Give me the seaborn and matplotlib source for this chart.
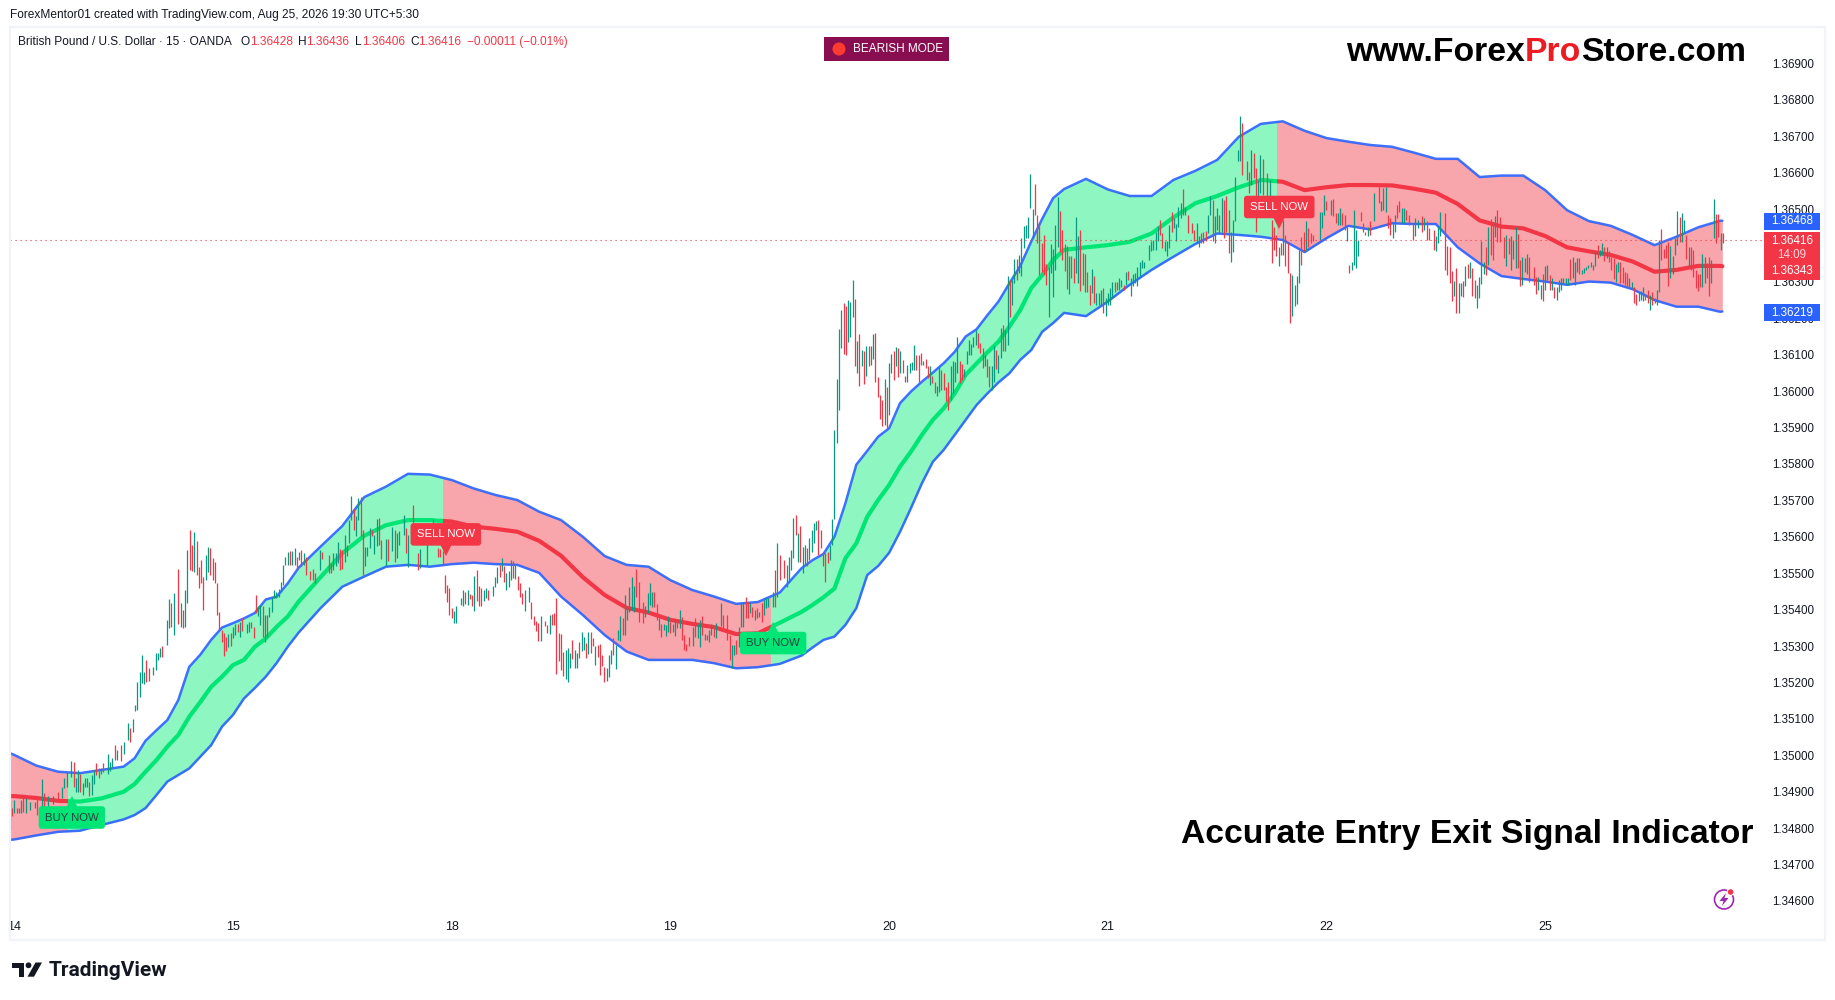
#!/usr/bin/env python3
"""GBP/USD 15 minute chart with the entry / exit signal band, TradingView look."""

import numpy as np
import matplotlib
matplotlib.use('Agg')
import matplotlib.pyplot as plt
import seaborn as sns
from matplotlib.patches import Rectangle, Circle, Polygon
from matplotlib.transforms import Affine2D
from matplotlib.ticker import FormatStrFormatter

W, H = 1835, 1000
BARS_PER_DAY = 96

day_ticks = [0, 1, 2, 3, 4, 5, 6, 7]
day_labels = ['14', '15', '18', '19', '20', '21', '22', '25']

# band values in pipettes (1e-5), one reading every 0.1 day
band_day = [-0.02] + [k / 10 for k in range(79)] + [7.81]
band_upper = [
    135006, 135001, 134972, 134955, 134951, 134960, 134969, 135040, 135097, 135243,
    135317, 135363, 135391, 135436, 135515, 135573, 135630, 135709, 135738, 135773,
    135771, 135756, 135733, 135715, 135701, 135669, 135646, 135600, 135547, 135523,
    135518, 135481, 135454, 135436, 135416, 135421, 135447, 135514, 135553, 135692,
    135836, 135898, 135999, 136051, 136108, 136170, 136246, 136344, 136473, 136555,
    136583, 136554, 136536, 136536, 136580, 136605, 136635, 136699, 136734, 136741,
    136715, 136695, 136685, 136676, 136671, 136655, 136638, 136638, 136588, 136592,
    136592, 136552, 136497, 136467, 136454, 136429, 136401, 136424, 136450, 136468,
    136468]
band_mid = [
    134888, 134888, 134883, 134875, 134873, 134882, 134900, 134955, 135024, 135106,
    135188, 135248, 135298, 135353, 135422, 135489, 135555, 135603, 135632, 135646,
    135646, 135642, 135628, 135622, 135614, 135589, 135548, 135489, 135440, 135405,
    135392, 135372, 135361, 135352, 135333, 135335, 135364, 135394, 135434, 135541,
    135655, 135742, 135834, 135921, 135994, 136076, 136136, 136223, 136319, 136388,
    136395, 136401, 136410, 136433, 136477, 136516, 136536, 136560, 136580, 136575,
    136552, 136560, 136566, 136566, 136565, 136556, 136545, 136514, 136469, 136452,
    136447, 136426, 136395, 136384, 136374, 136356, 136328, 136333, 136344, 136344,
    136343]
band_lower = [
    134768, 134769, 134780, 134790, 134793, 134809, 134824, 134855, 134928, 134964,
    135028, 135111, 135185, 135254, 135337, 135404, 135463, 135491, 135518, 135523,
    135518, 135525, 135529, 135525, 135523, 135501, 135436, 135385, 135330, 135285,
    135262, 135262, 135262, 135253, 135239, 135242, 135251, 135274, 135317, 135358,
    135495, 135556, 135679, 135806, 135880, 135962, 136024, 136086, 136163, 136215,
    136206, 136246, 136292, 136333, 136369, 136404, 136433, 136429, 136424, 136415,
    136382, 136420, 136454, 136444, 136461, 136459, 136459, 136395, 136351, 136316,
    136308, 136301, 136292, 136301, 136298, 136280, 136250, 136232, 136232, 136218,
    136219]

# extra readings on the steep climbs, half way between the ones above
steep_day = [0.55, 0.65, 0.75, 0.85, 0.95, 1.05, 1.15, 1.25,
             3.65, 3.75, 3.85, 3.95, 4.05, 4.15, 4.25, 4.35, 4.45, 4.55, 4.65, 4.75]
steep_upper = [134992, 135069, 135152, 135276, 135351, 135376, 135428, 135472,
               135536, 135600, 135798, 135875, 135967, 136026, 136077, 136150, 136209, 136296, 136411, 136530]
steep_mid = [134921, 134987, 135056, 135146, 135216, 135262, 135321, 135381,
             135413, 135458, 135582, 135701, 135793, 135880, 135953, 136045, 136107, 136177, 136283, 136360]
steep_lower = [134836, 134891, 134946, 134996, 135079, 135156, 135216, 135298,
               135296, 135326, 135404, 135520, 135614, 135747, 135839, 135921, 135994, 136049, 136113, 136187]

# bullish / bearish stretches of the band, in days
regime_start = [-0.02, 0.247, 1.962, 3.46, 5.772]
regime_end = [0.247, 1.962, 3.46, 5.772, 7.9]
regime_side = ['r', 'g', 'r', 'g', 'r']

# 15 minute candles: bar number since the "14" tick, high, low (pipettes), direction
bar_index = [
    -2, -1, 0, 1, 2, 3, 4, 5, 7, 9, 10, 12, 13, 15, 17, 19, 21, 22, 23, 25,
    26, 27, 28, 29, 30, 31, 32, 33, 34, 35, 36, 37, 38, 39, 41, 42, 43, 44, 45, 47,
    48, 50, 51, 52, 53, 54, 55, 56, 57, 58, 59, 61, 62, 63, 64, 65, 67, 68, 69, 70,
    72, 73, 74, 75, 76, 77, 78, 79, 80, 81, 82, 83, 84, 85, 86, 87, 88, 89, 90, 91,
    92, 93, 94, 95, 96, 97, 98, 99, 100, 102, 103, 104, 105, 106, 107, 108, 109, 110, 111, 112,
    113, 114, 115, 116, 117, 118, 119, 120, 121, 122, 123, 124, 125,
    126, 127, 128, 130, 131, 132, 134, 135, 138, 139, 140, 141, 142, 143, 144, 145, 146, 147, 148, 149,
    150, 151, 152, 153, 154, 155, 156, 157, 158, 159, 160, 161, 163, 164, 166, 167, 168, 169, 171, 172,
    173, 175, 177, 178, 181, 183, 184, 186, 187, 188, 189, 190, 191, 192, 193, 194, 196, 197, 198, 199,
    200, 201, 202, 203, 204, 205, 206, 207, 208, 210, 211, 212, 213, 214, 215, 216, 217, 218, 219, 220,
    221, 222, 223, 224, 226, 227, 228, 229, 230, 231, 233, 234, 235, 236, 237, 238, 239, 240, 241, 242,
    243, 244, 245, 246, 247, 248, 249, 250, 251, 252, 253, 254, 255, 256,
    257, 258, 259, 260, 261, 262, 263, 264, 265, 266, 267, 268, 269, 270, 271, 272, 273, 274, 276, 277,
    278, 279, 280, 281, 282, 283, 284, 285, 286, 287, 288, 289, 290, 291, 292, 293, 294, 295, 296, 298,
    299, 300, 301, 302, 303, 304, 305, 306, 307, 308, 310, 311, 313, 314, 315, 316, 317, 318, 319, 320,
    321, 322, 323, 324, 325, 326, 327, 328, 329, 330, 331, 333, 334, 335, 336, 338, 339, 340, 341, 342,
    343, 344, 345, 346, 347, 348, 349, 350, 351, 352, 353, 354, 355, 356, 357, 358, 359]
bar_index += list(range(360, 494))
bar_index += [
    494, 495, 496, 498, 499, 500, 501, 502, 503, 504, 505, 506, 507, 508, 509, 510, 511, 512, 513, 514,
    515, 517, 518, 519, 520, 521, 522, 523, 524, 525, 526, 527, 528, 529, 530, 531, 532, 533, 534, 535,
    536, 537, 538, 539, 541, 542, 543, 544, 545, 546, 547, 548, 550, 551, 552, 553, 554, 555, 556, 557,
    558, 559, 560, 561, 562, 563, 564, 565, 566, 567, 568, 569, 570, 573, 574, 575, 576, 578, 579, 580,
    581, 582, 583, 584, 585, 586, 587, 588, 589, 590, 591, 592, 593, 594, 595, 597, 599, 600, 601, 602,
    603, 604, 605, 606, 607, 608, 609, 610, 611, 612, 614, 615, 616, 618, 619, 620, 621, 623, 624, 625,
    626, 628, 629, 630, 631, 632, 633, 634, 635, 636, 637, 638, 639, 640, 641, 642, 643, 644, 645, 646,
    647, 648, 649, 650, 651, 652, 654, 655, 656, 657, 658, 659, 660, 661, 662, 663, 664, 665]
bar_index += list(range(667, 751))

bar_high = [
    134877, 134854, 134877, 134854, 134854, 134877, 134882, 134884, 134873, 134873, 134882, 134934, 134896, 134888, 134888, 134900, 134912, 134937, 134955, 134984,
    134981, 134937, 134960, 134949, 134923, 134939, 134939, 134928, 134946, 134960, 134978, 134964, 134964, 134978, 135004, 134982, 134992, 135028, 135015, 135028,
    135037, 135088, 135074, 135101, 135138, 135202, 135230, 135275, 135230, 135262, 135241, 135243, 135282, 135282, 135294, 135300, 135371, 135428, 135417, 135447,
    135512, 135419, 135399, 135454, 135564, 135620, 135577, 135612, 135588, 135518, 135536, 135490, 135550, 135573, 135568, 135541, 135532, 135472, 135394, 135344,
    135335, 135326, 135332, 135335, 135353, 135360, 135362, 135367, 135376, 135362, 135367, 135367, 135353, 135440, 135410, 135413, 135410, 135385, 135385, 135408,
    135436, 135454, 135449, 135458, 135477, 135522, 135544, 135559, 135561, 135561, 135568, 135545, 135559,
    135564, 135555, 135544, 135505, 135512, 135500, 135564, 135557, 135551, 135528, 135555, 135555, 135587, 135566, 135564, 135606, 135578, 135647, 135713, 135676,
    135656, 135706, 135709, 135619, 135572, 135573, 135624, 135619, 135606, 135649, 135651, 135592, 135594, 135594, 135627, 135619, 135610, 135615, 135660, 135624,
    135606, 135688, 135555, 135566, 135592, 135619, 135649, 135569, 135567, 135560, 135496, 135468, 135459, 135404, 135395, 135411, 135432, 135453, 135448, 135454,
    135443, 135441, 135493, 135509, 135464, 135459, 135453, 135459, 135454, 135464, 135489, 135517, 135523, 135541, 135521, 135500, 135505, 135537, 135535, 135523,
    135493, 135473, 135447, 135454, 135462, 135421, 135383, 135368, 135363, 135383, 135370, 135358, 135386, 135389, 135392, 135432, 135335, 135334, 135285, 135290,
    135294, 135281, 135317, 135290, 135281, 135310, 135338, 135326, 135308, 135338, 135338, 135322, 135299, 135303,
    135307, 135275, 135243, 135239, 135275, 135289, 135321, 135303, 135344, 135383, 135376, 135440, 135404, 135463, 135489, 135465, 135511, 135477, 135422, 135410,
    135445, 135472, 135449, 135449, 135415, 135376, 135362, 135361, 135358, 135383, 135367, 135362, 135372, 135372, 135399, 135381, 135330, 135307, 135324, 135353,
    135376, 135362, 135372, 135383, 135333, 135330, 135344, 135362, 135353, 135364, 135417, 135385, 135385, 135330, 135303, 135303, 135317, 135353, 135417, 135422,
    135436, 135422, 135417, 135408, 135399, 135404, 135394, 135419, 135426, 135431, 135431, 135449, 135509, 135582, 135550, 135536, 135523, 135544, 135564, 135651,
    135660, 135610, 135630, 135573, 135578, 135568, 135596, 135619, 135637, 135644, 135646, 135619, 135559, 135555, 135559, 135578, 135648,
    135894, 136034, 136171, 136223, 136241, 136235, 136251, 136246, 136305, 136252, 136138, 136157, 136113, 136111, 136124, 136124, 136124, 136157, 136159, 136038,
    135990, 135976, 136034, 136011, 136077, 136102, 136109, 136121, 136118, 136109, 136086, 136042, 136072, 136077, 136079, 136127, 136100, 136100, 136104, 136083,
    136089, 136068, 136069, 136042, 136026, 136013, 136070, 136058, 136051, 136011, 136026, 136070, 136083, 136081, 136150, 136083, 136075, 136060, 136111, 136141,
    136130, 136150, 136168, 136161, 136133, 136118, 136100, 136089, 136069, 136068, 136124, 136113, 136100, 136173, 136182, 136168, 136315, 136304, 136305, 136363,
    136363, 136374, 136420, 136454, 136457, 136479, 136597, 136500, 136569, 136484, 136461, 136406, 136429, 136349, 136342, 136404, 136390, 136457, 136532, 136495,
    136443, 136404, 136399, 136370, 136370, 136365, 136479, 136426, 136443, 136379, 136377, 136328, 136292, 136335, 136316, 136269, 136269, 136278, 136283, 136255,
    136269, 136283, 136301, 136301, 136301, 136310, 136305, 136292, 136328, 136331, 136310, 136322, 136324, 136340,
    136356, 136361, 136356, 136402, 136411, 136416, 136438, 136454, 136469, 136434, 136411, 136411, 136457, 136493, 136475, 136460, 136505, 136516, 136556, 136507,
    136484, 136463, 136443, 136461, 136425, 136434, 136438, 136441, 136484, 136535, 136525, 136480, 136503, 136484, 136530, 136525, 136536, 136498, 136438, 136470,
    136588, 136663, 136756, 136736, 136631, 136603, 136663, 136654, 136612, 136580, 136649, 136637, 136599, 136580, 136470, 136452, 136429, 136397, 136406, 136470,
    136429, 136406, 136324, 136319, 136292, 136315, 136388, 136423, 136438, 136466, 136448, 136434, 136429, 136493, 136493, 136539, 136521, 136525, 136528, 136489,
    136489, 136503, 136489, 136484, 136452, 136347, 136356, 136498, 136443, 136416, 136493, 136461, 136438, 136452, 136466, 136544, 136562, 136521, 136557, 136562,
    136484, 136475, 136461, 136484, 136512, 136521, 136503, 136504, 136498, 136484, 136461, 136475, 136470, 136480, 136475, 136466, 136448, 136443, 136425, 136452,
    136491, 136488, 136398, 136395, 136330, 136303, 136337, 136296, 136298, 136303, 136344, 136349, 136355, 136337, 136305, 136291, 136314, 136413, 136355, 136397,
    136452, 136474, 136465, 136481, 136497, 136477, 136424, 136429, 136420, 136426, 136415, 136452, 136431, 136360, 136369, 136365, 136377, 136369,
    136342, 136314, 136314, 136291, 136323, 136344, 136346, 136319, 136310, 136287, 136287, 136305, 136310, 136310, 136310, 136310, 136362, 136369, 136355, 136365,
    136365, 136334, 136337, 136342, 136346, 136355, 136346, 136386, 136401, 136389, 136406, 136395, 136397, 136386, 136369, 136367, 136349, 136355, 136355, 136340,
    136328, 136325, 136310, 136301, 136287, 136268, 136271, 136275, 136287, 136268, 136278, 136264, 136271, 136255, 136278, 136415, 136444, 136390, 136401, 136410,
    136398, 136371, 136420, 136495, 136477, 136488, 136470, 136429, 136397, 136397, 136387, 136333, 136323, 136323, 136377, 136369, 136351, 136369, 136360, 136529,
    136486, 136486, 136433, 136433]

bar_low = [
    134799, 134833, 134841, 134841, 134841, 134842, 134845, 134842, 134850, 134854, 134836, 134859, 134848, 134859, 134866, 134879, 134882, 134909, 134914, 134941,
    134914, 134898, 134898, 134900, 134891, 134914, 134912, 134888, 134891, 134921, 134946, 134937, 134950, 134955, 134950, 134958, 134969, 134987, 134987, 134985,
    135005, 135042, 135037, 135065, 135123, 135124, 135159, 135198, 135196, 135202, 135204, 135220, 135234, 135262, 135271, 135271, 135303, 135349, 135353, 135330,
    135362, 135353, 135349, 135353, 135417, 135509, 135507, 135504, 135495, 135460, 135472, 135399, 135481, 135504, 135495, 135481, 135472, 135385, 135344, 135312,
    135274, 135287, 135298, 135300, 135321, 135330, 135339, 135324, 135342, 135335, 135339, 135349, 135323, 135390, 135382, 135358, 135324, 135312, 135324, 135379,
    135394, 135431, 135431, 135434, 135449, 135468, 135522, 135522, 135522, 135522, 135522, 135509, 135536,
    135519, 135523, 135496, 135482, 135482, 135473, 135509, 135539, 135500, 135500, 135509, 135519, 135528, 135509, 135511, 135532, 135548, 135583, 135647, 135619,
    135603, 135647, 135601, 135496, 135519, 135546, 135569, 135601, 135553, 135575, 135578, 135539, 135520, 135535, 135560, 135532, 135541, 135578, 135606, 135555,
    135517, 135638, 135508, 135514, 135519, 135587, 135590, 135544, 135544, 135523, 135445, 135422, 135384, 135377, 135363, 135363, 135413, 135411, 135416, 135413,
    135429, 135409, 135395, 135425, 135411, 135411, 135425, 135432, 135427, 135438, 135462, 135473, 135491, 135505, 135477, 135453, 135462, 135482, 135487, 135484,
    135454, 135434, 135416, 135395, 135421, 135374, 135357, 135342, 135313, 135315, 135354, 135335, 135334, 135358, 135358, 135223, 135260, 135235, 135217, 135209,
    135201, 135239, 135264, 135239, 135239, 135267, 135287, 135290, 135267, 135279, 135281, 135299, 135249, 135271,
    135221, 135245, 135200, 135204, 135216, 135251, 135275, 135236, 135317, 135314, 135330, 135330, 135372, 135394, 135399, 135394, 135436, 135367, 135364, 135381,
    135390, 135413, 135408, 135408, 135372, 135344, 135324, 135344, 135328, 135340, 135335, 135340, 135329, 135349, 135351, 135317, 135289, 135287, 135301, 135300,
    135326, 135321, 135298, 135330, 135317, 135317, 135312, 135330, 135326, 135323, 135355, 135349, 135317, 135262, 135239, 135275, 135278, 135298, 135353, 135353,
    135376, 135376, 135390, 135381, 135372, 135376, 135381, 135367, 135385, 135404, 135408, 135408, 135408, 135436, 135481, 135486, 135463, 135477, 135509, 135541,
    135605, 135532, 135532, 135500, 135523, 135520, 135536, 135559, 135582, 135619, 135550, 135568, 135520, 135477, 135527, 135536, 135578,
    135648, 135859, 135949, 136118, 136101, 136100, 136136, 136150, 136203, 136068, 136049, 136013, 136068, 136020, 136043, 136070, 136072, 136089, 136024, 135985,
    135923, 135905, 135907, 135898, 135935, 136049, 136031, 136068, 136040, 136049, 136049, 136024, 136024, 136049, 136058, 136058, 136057, 136024, 136072, 136072,
    136063, 136035, 136017, 136022, 135996, 135987, 135999, 136003, 136003, 135974, 135947, 135976, 135994, 136026, 136049, 136022, 136031, 136040, 136075, 136100,
    136100, 136122, 136127, 136118, 136106, 136063, 136069, 136038, 136011, 136002, 136026, 136060, 136049, 136090, 136111, 136111, 136127, 136205, 136237, 136298,
    136304, 136324, 136315, 136392, 136420, 136420, 136502, 136420, 136484, 136406, 136319, 136328, 136319, 136292, 136205, 136324, 136258, 136333, 136395, 136381,
    136360, 136331, 136280, 136267, 136310, 136298, 136324, 136298, 136276, 136292, 136273, 136273, 136237, 136269, 136243, 136237, 136237, 136237, 136216, 136207,
    136237, 136237, 136255, 136273, 136278, 136278, 136287, 136278, 136292, 136305, 136260, 136289, 136296, 136289,
    136315, 136338, 136338, 136361, 136384, 136388, 136388, 136411, 136429, 136393, 136384, 136370, 136393, 136438, 136448, 136411, 136452, 136475, 136484, 136484,
    136434, 136434, 136411, 136406, 136397, 136406, 136408, 136411, 136434, 136484, 136411, 136408, 136443, 136434, 136438, 136420, 136438, 136379, 136356, 136381,
    136466, 136631, 136631, 136594, 136580, 136544, 136567, 136585, 136436, 136535, 136544, 136539, 136516, 136489, 136353, 136388, 136370, 136345, 136374, 136374,
    136344, 136324, 136187, 136207, 136233, 136240, 136297, 136347, 136384, 136384, 136397, 136406, 136411, 136416, 136448, 136484, 136498, 136484, 136480, 136461,
    136457, 136457, 136457, 136443, 136411, 136324, 136333, 136347, 136338, 136370, 136466, 136438, 136429, 136427, 136429, 136466, 136516, 136496, 136498, 136493,
    136448, 136429, 136420, 136438, 136475, 136493, 136461, 136461, 136470, 136457, 136414, 136425, 136448, 136438, 136443, 136416, 136416, 136388, 136384, 136406,
    136426, 136333, 136319, 136296, 136248, 136261, 136214, 136215, 136261, 136259, 136289, 136310, 136310, 136261, 136255, 136229, 136255, 136294, 136323, 136319,
    136346, 136374, 136360, 136424, 136410, 136410, 136365, 136344, 136378, 136333, 136362, 136337, 136337, 136289, 136291, 136328, 136323, 136301,
    136291, 136268, 136278, 136252, 136248, 136278, 136305, 136278, 136278, 136255, 136250, 136273, 136278, 136296, 136294, 136291, 136305, 136310, 136291, 136328,
    136323, 136322, 136325, 136333, 136337, 136342, 136334, 136344, 136365, 136372, 136374, 136358, 136365, 136355, 136334, 136307, 136301, 136328, 136298, 136296,
    136291, 136287, 136287, 136282, 136243, 136236, 136248, 136250, 136248, 136250, 136241, 136223, 136236, 136241, 136236, 136271, 136360, 136365, 136365, 136289,
    136310, 136323, 136374, 136401, 136410, 136410, 136438, 136362, 136342, 136333, 136314, 136282, 136275, 136287, 136287, 136296, 136310, 136262, 136296, 136420,
    136406, 136424, 136387, 136406]

bar_side = (
    'grgrggrgggrgrggrgggg' 'rggrgggrggrrgrgggrgr' 'ggrggggggrrggggrggrg' 'rgrggrrgrrrrggrrrrrr'
    'rrgrggrgrggrrrggrgrg' 'ggggggggrggrg'
    'rgrrrrgrrrgggrrgrggr' 'ggrrgggrggrrgrgrgggr' 'grrggggrrrrrrrggggrg' 'rrgrrrggrgggrgrgggrg'
    'rrrggrrrrgrrgrrrrrrg' 'ggrggrggrgrrgr'
    'rrrgggrgggrgggggrrrg' 'gggrrgrgggrggrgrrrrg' 'rggrgrggrggrrrggrggg' 'rrgrgrgrggggrgrrgggg'
    'rgrggrggggrrrrrgg'
    'ggggrrgggrgrgrgrggrr' 'rrgrggrgrgrrggggrrrg' 'rrgrrggrrrrggggrrggg' 'gggrrrgrrggrggrggrgg'
    'rgggggggrrrrrrgggggr' 'rrrgrrggrrrrrgrgggrg' 'gggrrggrgrgggg'
    'ggggggggrrgggrggggrg' 'rrrggrrrggrggrgrrrgg' 'gggrrrgrrggrrgrrrgrg' 'rrrggggrrgrrrgggrgrr'
    'ggrrgrggggrrrgrgrggg' 'rrggrrggrrrggrgrrrgg'
    'grrrrgrggrgrgrrggggr' 'grrgrrrgrgggrrgggr'
    'rrggrggrgrggggggrggg' 'rgggggggrggrgrrrggrr' 'rrggrrgggrrgrrggrrrr' 'ggggrggrgrrrrrggrrgg' 'rrgr')

# signal labels: where the pointer sits, and which way
signal_day = [0.263, 1.973, 3.47, 5.784]
signal_price = [134872, 135564, 135351, 136463]
signal_text = ['BUY NOW', 'SELL NOW', 'BUY NOW', 'SELL NOW']

price_ticks = np.arange(134600, 136901, 100)

last_close = 1.36416
upper_last, mid_last, lower_last = '1.36468', '1.36343', '1.36219'
countdown = '14:09'
legend_values = ['1.36428', '1.36436', '1.36406', '1.36416']

UP_TEAL = '#089981'
RED = '#f23645'
GREEN = '#00e676'
BLUE = '#2962ff'
FILL = {'r': '#f9a5ac', 'g': '#8ef6c0'}
MID = {'r': RED, 'g': GREEN}
INK = '#131722'

sns.set_theme(style='white')
plt.rcParams['font.family'] = ['Liberation Sans', 'DejaVu Sans']

fig = plt.figure(figsize=(W / 100, H / 100), dpi=100, facecolor='white')
ax = fig.add_axes([10 / W, 1 - 940 / H, 1754 / W, 913 / H])
ax.set_xlim(-0.0197, 8.0005)
ax.set_ylim(1.344929, 1.37)
sns.despine(ax=ax, left=True, bottom=True, right=True, top=True)

# figure space in reference pixels, y pointing down, for the chrome round the chart
px = Affine2D().scale(1 / W, -1 / H).translate(0, 1) + fig.transFigure


def fig_text(x, y, s, **kw):
    kw.setdefault('color', INK)
    kw.setdefault('fontsize', 8.6)
    kw.setdefault('va', 'center')
    return fig.text(x, y, s, transform=px, **kw)


# band, split in bullish and bearish parts
order = np.argsort(band_day + steep_day)
days = np.array(band_day + steep_day)[order]
upper = np.array(band_upper + steep_upper)[order] / 1e5
mid = np.array(band_mid + steep_mid)[order] / 1e5
lower = np.array(band_lower + steep_lower)[order] / 1e5

for start, end, side in zip(regime_start, regime_end, regime_side):
    clip = Rectangle((start, 1.34), end - start, 0.04, transform=ax.transData)
    poly = ax.fill_between(days, lower, upper, color=FILL[side], linewidth=0, zorder=1)
    poly.set_clip_path(clip)

for values in (upper, lower):
    sns.lineplot(x=days, y=values, color=BLUE, linewidth=1.8, alpha=0.9, errorbar=None,
                 ax=ax, zorder=2, legend=False)
    ax.lines[-1].set_solid_joinstyle('round')

for start, end, side in zip(regime_start, regime_end, regime_side):
    clip = Rectangle((start, 1.34), end - start, 0.04, transform=ax.transData)
    sns.lineplot(x=days, y=mid, color=MID[side], linewidth=3.0, errorbar=None,
                 ax=ax, zorder=2, legend=False)
    ax.lines[-1].set_clip_path(clip)
    ax.lines[-1].set_solid_joinstyle('round')

# candles
bar_day = np.array(bar_index) / BARS_PER_DAY
bar_colors = [UP_TEAL if s == 'g' else RED for s in bar_side]
ax.vlines(bar_day, np.array(bar_low) / 1e5, np.array(bar_high) / 1e5, colors=bar_colors,
          linewidth=0.9, zorder=3)

ax.axhline(last_close, color=RED, linewidth=0.8, linestyle=(0, (1, 3.5)), zorder=3)

# buy / sell labels
for day, price, text in zip(signal_day, signal_price, signal_text):
    buy = text.startswith('BUY')
    face = GREEN if buy else RED
    ax.plot([day], [price / 1e5], marker='^' if buy else 'v', markersize=8, color=face,
            markeredgewidth=0, zorder=5)
    ax.annotate(text, xy=(day, price / 1e5), xytext=(0, -11.2 if buy else 11.2),
                textcoords='offset points', ha='center', va='center', fontsize=8.2,
                color='#2c3e3e' if buy else 'white', zorder=6,
                bbox=dict(boxstyle='round,pad=0.55,rounding_size=0.25', fc=face, ec='none'))

# axes
ax.set_xticks(day_ticks)
ax.set_xticklabels(day_labels)
ax.yaxis.tick_right()
ax.set_yticks(price_ticks / 1e5)
ax.yaxis.set_major_formatter(FormatStrFormatter('%.5f'))
ax.tick_params(axis='y', length=0, pad=5.8, labelsize=8.4, labelcolor=INK)
ax.tick_params(axis='x', length=0, pad=-13.9, labelsize=9, labelcolor=INK)
ax.grid(False)

# outer frame
fig.add_artist(Rectangle((10, 27), 1815, 913, transform=px, fill=False, edgecolor='#f0f3f7',
                         linewidth=1.6, zorder=1))

# price scale boxes
fig.add_artist(Rectangle((1764, 213), 56, 17, transform=px, color=BLUE, linewidth=0, zorder=5))
fig_text(1792, 221.5, upper_last, color='white', ha='center', fontsize=8.4, zorder=6)
fig.add_artist(Rectangle((1764, 232), 56, 48, transform=px, color=RED, linewidth=0, zorder=5))
fig_text(1792, 240.5, f'{last_close:.5f}', color='white', ha='center', fontsize=8.4, zorder=6)
fig_text(1792, 254.5, countdown, color='#fcd5d9', ha='center', fontsize=8.4, zorder=6)
fig_text(1792, 271.5, mid_last, color='white', ha='center', fontsize=8.4, zorder=6)
fig.add_artist(Rectangle((1764, 304), 56, 17, transform=px, color=BLUE, linewidth=0, zorder=5))
fig_text(1792, 312.5, lower_last, color='white', ha='center', fontsize=8.4, zorder=6)

# header lines
fig_text(10, 15, 'ForexMentor01 created with TradingView.com, Aug 25, 2026 19:30 UTC+5:30')
fig_text(18, 42, 'British Pound / U.S. Dollar · 15 · OANDA')
for x_letter, letter, x_val, val in zip([240, 298, 355, 410], 'OHLC', [250, 306, 362, 418], legend_values):
    fig_text(x_letter, 42, letter)
    fig_text(x_val, 42, val, color=RED)
fig_text(467, 42, '−0.00011 (−0.01%)', color=RED)

# mode badge
fig.add_artist(Rectangle((824, 37), 125, 24, transform=px, color='#880e4f', linewidth=0, zorder=5))
fig.add_artist(Circle((839, 49), 6.5, transform=px, color='#ff3b30', linewidth=0, zorder=6))
fig_text(853, 49, 'BEARISH MODE', color='white', fontsize=8.5, zorder=6)

# brand texts
x_pos = 1346
renderer = fig.canvas.get_renderer()
for piece, colour in zip(['www.Forex', 'Pro', 'Store.com'], ['black', '#ed1c24', 'black']):
    t = fig_text(x_pos, 52.5, piece, color=colour, fontsize=24.3, fontweight='bold', zorder=6)
    x_pos += t.get_window_extent(renderer).width
fig_text(1181, 835, 'Accurate Entry Exit Signal Indicator', color='black', fontsize=24.2,
         fontweight='bold', zorder=6)

# lightning icon
fig.add_artist(Circle((1724, 899.5), 9.5, transform=px, fill=False, edgecolor='#9c27b0',
                      linewidth=1.2, zorder=6))
fig.add_artist(Polygon([(1726, 893), (1719.5, 901), (1723.5, 901), (1722, 906), (1728.5, 898), (1724.5, 898)],
                       transform=px, color='#9c27b0', linewidth=0, zorder=6))
fig.add_artist(Circle((1730.6, 892), 3.8, transform=px, color='white', linewidth=0, zorder=7))
fig.add_artist(Circle((1730.6, 892), 2.8, transform=px, color=RED, linewidth=0, zorder=8))

# TradingView mark
LOGO = '#131722'
fig.add_artist(Polygon([(12, 962.5), (24.3, 962.5), (24.3, 976.7), (19, 976.7), (19, 968), (12, 968)],
                       transform=px, color=LOGO, linewidth=0))
fig.add_artist(Circle((28.5, 965.3), 2.9, transform=px, color=LOGO, linewidth=0))
fig.add_artist(Polygon([(35.5, 962.5), (42, 962.5), (34, 976.7), (27.5, 976.7)],
                       transform=px, color=LOGO, linewidth=0))
fig_text(48.5, 970, 'TradingView', family='Roboto', fontweight='bold', fontsize=15, color=LOGO)

fig.savefig('out.png', dpi=100)
